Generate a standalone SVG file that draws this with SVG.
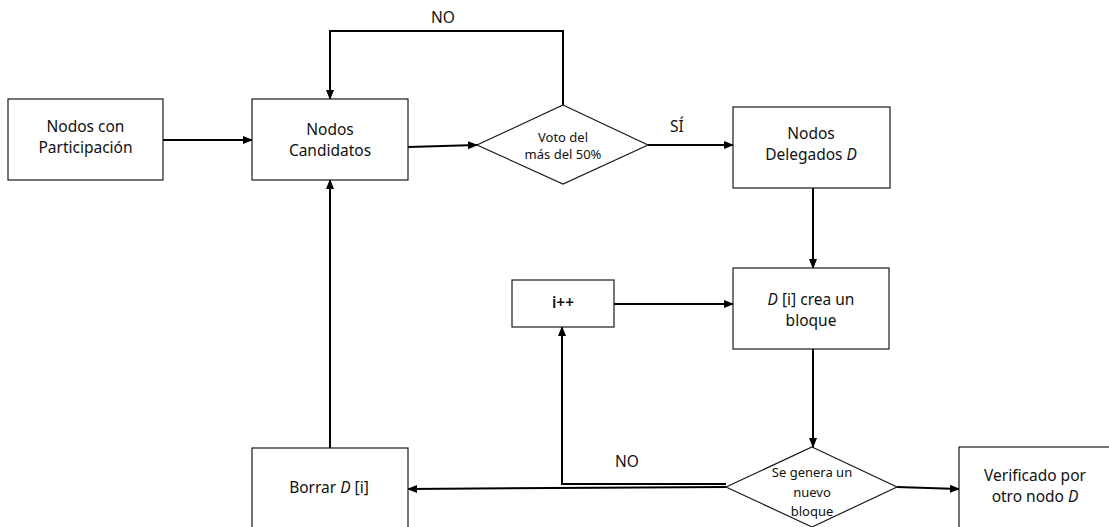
<svg xmlns="http://www.w3.org/2000/svg" width="1109" height="527" viewBox="0 0 1109 527">
  <style>
    .box { fill: #ffffff; stroke: #1a1a1a; stroke-width: 1.2; }
    .dia { fill: #ffffff; stroke: #1a1a1a; stroke-width: 1.2; }
    .edge { fill: none; stroke: #000000; stroke-width: 2; }
    .t { font-family: "Noto Sans", "Open Sans", sans-serif; font-size: 15.5px; fill: #111111; text-anchor: middle; }
    .s { font-family: "Noto Sans", "Open Sans", sans-serif; font-size: 13px; fill: #111111; text-anchor: middle; }
    .i { font-style: italic; }
    .b { font-weight: 600; }
  </style>
  <defs>
    <marker id="arrow" markerUnits="userSpaceOnUse" markerWidth="10" markerHeight="10" viewBox="0 0 10 10" refX="9" refY="5" orient="auto">
      <path d="M0,1 L10,5 L0,9 Z" fill="#000000"/>
    </marker>
  </defs>

  <rect width="1109" height="527" fill="#ffffff"/>

  <g id="connectors">
    <!-- Participación -> Candidatos -->
    <path class="edge" d="M163,140 L252,140" marker-end="url(#arrow)"/>
    <!-- Candidatos -> vote decision -->
    <path class="edge" d="M408,147 L477,145" marker-end="url(#arrow)"/>
    <!-- NO loop back to Candidatos -->
    <path class="edge" d="M563,105 L563,31 L330,31 L330,99" marker-end="url(#arrow)"/>
    <!-- SÍ -> Delegados -->
    <path class="edge" d="M648,145 L733,145" marker-end="url(#arrow)"/>
    <!-- Delegados -> crea un bloque -->
    <path class="edge" d="M813,188 L813,268" marker-end="url(#arrow)"/>
    <!-- i++ -> crea un bloque -->
    <path class="edge" d="M614,304 L733,304" marker-end="url(#arrow)"/>
    <!-- crea un bloque -> block decision -->
    <path class="edge" d="M813,349 L813,447" marker-end="url(#arrow)"/>
    <!-- NO loop to i++ -->
    <path class="edge" d="M726,484 L562,484 L562,327" marker-end="url(#arrow)"/>
    <!-- decision -> Borrar -->
    <path class="edge" d="M726,487 L408,489" marker-end="url(#arrow)"/>
    <!-- decision -> Verificado -->
    <path class="edge" d="M897,487 L959,489" marker-end="url(#arrow)"/>
    <!-- Borrar -> Candidatos -->
    <path class="edge" d="M330,448 L330,180" marker-end="url(#arrow)"/>
  </g>

  <g id="node-participacion">
    <rect class="box" x="8" y="99" width="155" height="81"/>
    <text class="t" x="85.5" y="132">Nodos con</text>
    <text class="t" x="85.5" y="153">Participación</text>
  </g>

  <g id="node-candidatos">
    <rect class="box" x="252" y="99" width="156" height="81"/>
    <text class="t" x="330" y="135">Nodos</text>
    <text class="t" x="330" y="156">Candidatos</text>
  </g>

  <g id="node-voto">
    <polygon class="dia" points="563,105 648,145 563,184 477,145"/>
    <text class="s" x="563" y="142">Voto del</text>
    <text class="s" x="563" y="159">más del 50%</text>
  </g>

  <g id="node-delegados">
    <rect class="box" x="733" y="107" width="157" height="81"/>
    <text class="t" x="811" y="139">Nodos</text>
    <text class="t" x="811" y="160">Delegados <tspan class="i">D</tspan></text>
  </g>

  <g id="node-crea">
    <rect class="box" x="733" y="268" width="156" height="81"/>
    <text class="t" x="811" y="305"><tspan class="i">D</tspan> [i] crea un</text>
    <text class="t" x="811" y="326">bloque</text>
  </g>

  <g id="node-incremento">
    <rect class="box" x="512" y="280" width="102" height="47"/>
    <text class="t b" x="563" y="308">i++</text>
  </g>

  <g id="node-nuevo-bloque">
    <polygon class="dia" points="812,447 897,487 812,527 726,487"/>
    <text class="s" x="812" y="477">Se genera un</text>
    <text class="s" x="812" y="497">nuevo</text>
    <text class="s" x="812" y="516">bloque</text>
  </g>

  <g id="node-borrar">
    <rect class="box" x="252" y="448" width="156" height="90"/>
    <text class="t" x="329" y="493">Borrar <tspan class="i">D</tspan> [i]</text>
  </g>

  <g id="node-verificado">
    <rect class="box" x="959" y="447" width="160" height="90"/>
    <text class="t" x="1035" y="481">Verificado por</text>
    <text class="t" x="1035" y="502">otro nodo <tspan class="i">D</tspan></text>
  </g>

  <g id="labels">
    <text class="t" x="443" y="23">NO</text>
    <text class="t" x="677" y="132">SÍ</text>
    <text class="t" x="627" y="467">NO</text>
  </g>
</svg>
